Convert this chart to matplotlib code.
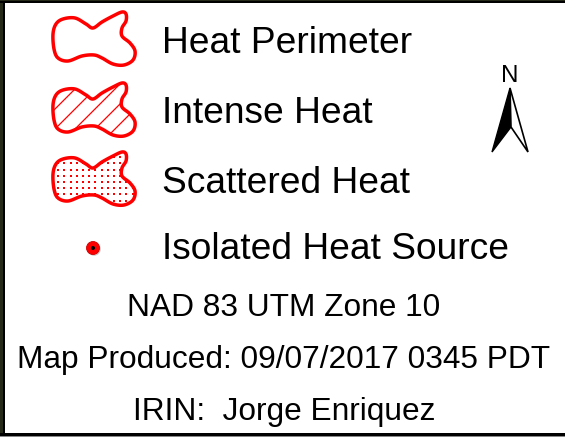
import numpy as np
import matplotlib.pyplot as plt
from matplotlib.patches import Polygon, Rectangle, Circle

# legend entries
labels = ['Heat Perimeter', 'Intense Heat', 'Scattered Heat', 'Isolated Heat Source']
label_base = [53, 123, 193, 259]
blob_y = [39, 110, 179]

# footer text lines
footer = ['NAD 83 UTM Zone 10', 'Map Produced: 09/07/2017 0345 PDT', 'IRIN:  Jorge Enriquez']
footer_base = [316, 368, 420]

# outline of the heat blob symbol (pixels, relative to centre)
blob_x = [-41, -38, -31, -19, -8, -1, 8, 19, 28, 32, 32, 28, 28, 36, 41, 39, 30, 19, 8, 0, -12, -26, -36, -40]
blob_dy = [-5, -15, -20, -21, -15, -11, -17, -23, -27, -25, -18, -11, -3, 4, 12, 21, 26, 25, 19, 16, 17, 22, 19, 10]

RED = '#ff0000'


def smooth(px, py, n=12):
    # closed catmull-rom spline through the outline points
    p = np.column_stack([px, py]).astype(float)
    m = len(p)
    out = []
    for i in range(m):
        p0, p1, p2, p3 = p[i - 1], p[i], p[(i + 1) % m], p[(i + 2) % m]
        for t in np.linspace(0, 1, n, endpoint=False):
            t2, t3 = t * t, t * t * t
            out.append(0.5 * (2 * p1 + (-p0 + p2) * t + (2 * p0 - 5 * p1 + 4 * p2 - p3) * t2
                              + (-p0 + 3 * p1 - 3 * p2 + p3) * t3))
    return np.array(out)


fig = plt.figure(figsize=(5.65, 4.37), dpi=100)
ax = fig.add_axes([0, 0, 1, 1])
ax.set_xlim(0, 565)
ax.set_ylim(437, 0)
ax.axis('off')

shape = smooth(blob_x, blob_dy)
cx = 94

# heat perimeter
ax.add_patch(Polygon(shape + [cx, blob_y[0]], closed=True, fill=False, ec=RED, lw=2.5, zorder=3))

# intense heat - diagonal hatch
p2 = Polygon(shape + [cx, blob_y[1]], closed=True, fc='none', ec=RED, lw=2.5, zorder=3)
ax.add_patch(p2)
for off in np.arange(-80, 90, 20):
    ln, = ax.plot([cx + off - 60, cx + off + 60], [blob_y[1] + 60, blob_y[1] - 60],
                  color=RED, lw=0.9, zorder=2)
    ln.set_clip_path(p2)

# scattered heat - dot grid
p3 = Polygon(shape + [cx, blob_y[2]], closed=True, fc='none', ec=RED, lw=2.5, zorder=3)
ax.add_patch(p3)
gx, gy = np.meshgrid(np.arange(cx - 42, cx + 45, 6.2), np.arange(blob_y[2] - 28, blob_y[2] + 28, 6.2))
dots = ax.scatter(gx.ravel(), gy.ravel(), s=2.2, marker='s', c=RED, edgecolors='none', zorder=2)
dots.set_clip_path(p3)

# isolated heat source
ax.add_patch(Circle((94, 249), 6.8, fc='#999999', ec='none', alpha=0.5, zorder=2))
ax.add_patch(Circle((93, 248), 6.5, fc=RED, ec='#d00000', lw=0.6, zorder=3))
ax.add_patch(Circle((93, 248), 2.0, fc='black', ec='none', zorder=4))

for lab, y in zip(labels, label_base):
    ax.text(162, y, lab, fontsize=26.7, family='Liberation Sans', va='baseline', ha='left')

for t, y in zip(footer, footer_base):
    ax.text(284, y, t, fontsize=22.8, family='Liberation Sans', va='baseline', ha='center')

# north arrow
ax.text(510, 82, 'N', fontsize=17.5, family='Liberation Sans', va='baseline', ha='center')
ax.add_patch(Polygon([[510, 88], [492, 152], [511, 127]], closed=True, fc='black', ec='black', lw=1.0))
ax.add_patch(Polygon([[510, 88], [511, 127], [528, 152]], closed=True, fc='white', ec='black', lw=1.2))

# frame
ax.add_patch(Rectangle((0, 0), 3, 437, fc='#252b18', ec='none', zorder=5))
ax.add_patch(Rectangle((3, 0), 2, 437, fc='black', ec='none', zorder=5))
ax.add_patch(Rectangle((0, 0), 565, 1, fc='#252b18', ec='none', zorder=5))
ax.add_patch(Rectangle((0, 1), 565, 2, fc='black', ec='none', zorder=5))
ax.add_patch(Rectangle((0, 433), 565, 2.5, fc='black', ec='none', zorder=5))
ax.add_patch(Rectangle((0, 435.5), 565, 1.5, fc='#888888', ec='none', zorder=5))

fig.savefig('out.png', dpi=100)
